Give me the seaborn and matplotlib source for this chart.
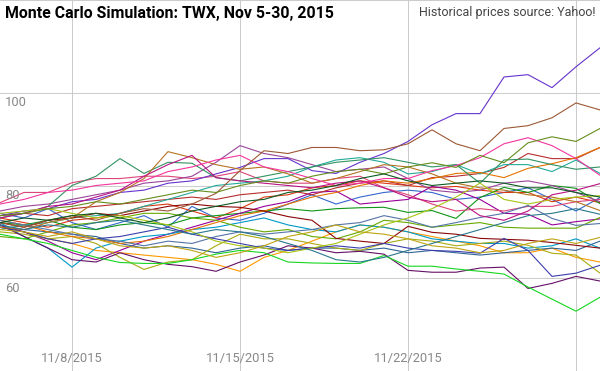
import pandas as pd
import matplotlib
matplotlib.use("Agg")
import matplotlib.pyplot as plt
import matplotlib.transforms as mtransforms
import seaborn as sns

# --- data ---
dates = pd.date_range("2015-11-05", "2015-11-30", freq="D")
grid_dates = pd.to_datetime(["2015-11-08", "2015-11-15", "2015-11-22", "2015-11-29"])
x_labels = ["11/8/2015", "11/15/2015", "11/22/2015"]
y_ticks = [40, 60, 80, 100, 120]
y_labels = [60, 80, 100]

palette = ['#3366cc', '#dc3912', '#ff9900', '#109618', '#990099', '#0099c6',
           '#dd4477', '#66aa00', '#b82e2e', '#316395', '#994499', '#22aa99',
           '#aaaa11', '#6633cc', '#e67300', '#8b0707', '#651067', '#329262',
           '#5574a6', '#3b3eac', '#b77322', '#16d620', '#b91383', '#f4359e',
           '#9c5935', '#a9c413', '#2a778d', '#668d1c', '#bea413', '#0c5922']

s00 = [74, 73, 75, 72, 70.5, 72, 73.5, 71, 75.5, 73, 72.5, 74, 76, 78, 76, 77.5, 78.5, 79, 78.5, 77, 77.5, 78.5, 79.5, 77, 74.5, 77.4]
s01 = [73, 72, 71, 72.5, 73, 74, 75.5, 76, 74.5, 73, 75, 77.5, 78, 79.5, 80, 81, 80.5, 80, 79.5, 79.8, 79, 78.5, 78.5, 76.5, 77.5, 76.3]
s02 = [71, 70, 68.5, 67.5, 66, 65.5, 65, 64.5, 64, 63, 61.5, 64.5, 66, 68, 70, 71.5, 71, 70, 69, 68, 67, 65.5, 65.5, 66.5, 64.5, 63.5]
s03 = [72, 71.5, 72.5, 71, 70.5, 71.5, 72, 71.5, 73, 73.5, 74, 74.5, 75, 74.5, 75, 75.2, 75.3, 74.2, 74.6, 72.9, 77.4, 79.6, 78.5, 80, 79.4, 76.1]
s04 = [71.5, 70, 68, 65.5, 64, 66, 68, 69.5, 71, 72.5, 74, 75.5, 76.5, 78.5, 78.8, 76, 76.5, 77, 79.8, 79, 77, 74, 73.8, 71.5, 72.2, 72.8]
s05 = [72, 69, 66.5, 62.4, 66.5, 68, 69, 69.5, 70.5, 71, 72, 73, 71.5, 70.5, 70, 71.5, 71, 70, 68.5, 68, 67.5, 67.5, 66.5, 67, 68.5, 66.5]
s06 = [76.3, 78.5, 78.5, 80.6, 81.5, 81.5, 82, 82, 81.5, 82, 83, 81, 80.5, 80.5, 81.5, 82, 79.5, 78, 76, 74.5, 75, 74.5, 75.5, 75.5, 76.5, 77]
s07 = [69, 68.5, 70, 71.5, 72, 73, 74, 74, 73, 72.5, 71, 70, 70.5, 69, 68.5, 70, 72.5, 72, 71, 71.5, 72, 71, 70.8, 70.8, 70.8, 73.1]
s08 = [73.5, 74, 73.5, 75, 75.5, 76, 76.5, 77, 77.5, 77, 78, 78.5, 79, 78, 79.5, 80.5, 81, 80, 81.7, 82, 82.6, 83.9, 86.9, 85.8, 85.8, 88.2]
s09 = [71, 70.5, 70, 69.5, 69, 67.5, 66.5, 67, 66.5, 65.5, 66.5, 67, 66, 66.5, 66.5, 66, 66.5, 65.5, 66, 65.5, 65, 65.5, 66, 66.5, 66, 68]
s10 = [74.5, 75.5, 76, 77, 78, 79, 80.5, 81, 82, 85, 88.6, 86.9, 86, 84.5, 83, 83.5, 84, 81.5, 79, 78.5, 79, 80.5, 81, 80, 78.5, 76.5]
s11 = [70.5, 71.5, 72, 73, 73.5, 74, 75.5, 77, 78.5, 80, 80.5, 81, 82, 84, 85.5, 86, 85, 82.5, 83, 84.5, 82.5, 84.5, 84.5, 83, 85.5, 82.6]
s12 = [70, 69.5, 68.5, 69, 67.5, 64.5, 61.9, 63.5, 64, 67, 69.5, 68.5, 68.5, 67.5, 66.5, 66, 67.5, 68.5, 68, 67, 67.5, 68, 67.1, 65.4, 65, 61.1]
s13 = [73.5, 74.5, 75, 76.5, 77, 78.5, 79, 80.5, 81, 82.5, 83.9, 85.8, 85.8, 83.2, 82.6, 85, 86.9, 89.5, 93.1, 95.5, 95.5, 103.4, 103.9, 101.1, 105.6, 109.7]
s14 = [72.5, 71.5, 70, 69, 68.5, 67.5, 68, 69, 70.5, 72, 73.5, 74.5, 76, 77.5, 78.5, 80, 81, 80.5, 81.5, 82.6, 82.8, 81.7, 83.7, 84.7, 86, 88.2]
s15 = [72, 71, 72.5, 73, 74, 73.5, 74.5, 75.5, 76, 75.5, 75.3, 74.5, 73.3, 72.5, 68.6, 68, 67.5, 71.2, 69.9, 69.5, 68.6, 68.4, 68.2, 67.7, 67.1, 66.5]
s16 = [71.5, 69, 66.5, 64, 63.5, 65.5, 64, 63, 62.5, 61.5, 63.5, 65, 67, 66.5, 65.5, 65.8, 65.2, 61.7, 61.3, 61.3, 62.2, 62.4, 57.8, 58.9, 60.4, 59.4]
s17 = [73, 74, 75.5, 80, 82, 85.8, 82.6, 85, 84.8, 81.7, 81, 82, 83, 84, 85, 85.5, 86, 85, 84, 84.5, 80.5, 85.5, 85.7, 84.5, 83.5, 84]
s18 = [72.5, 71.5, 70.5, 69.5, 68.5, 68, 67, 68, 67.5, 69, 70, 69.5, 70, 70.5, 71.5, 72, 73.5, 72.5, 71, 72, 73.1, 74, 75.7, 72.9, 71.4, 71.8]
s19 = [71, 70, 68.5, 67.5, 68.5, 69, 70, 71, 69.5, 68.5, 67.5, 66.5, 66, 66.5, 67, 66.5, 67.5, 66.5, 66, 65.8, 65.4, 68.6, 66, 60.4, 61.1, 62.8]
s20 = [71, 70.5, 72, 73, 76.5, 78.5, 81.5, 87.3, 86, 84.5, 83.5, 84, 82.5, 80.5, 81.5, 83, 84.5, 84, 82.5, 80.5, 79.5, 79, 78, 77.5, 76.5, 74.6]
s21 = [69.5, 68.5, 67.5, 66, 64.5, 63.4, 63.2, 63.2, 64, 65.2, 66, 65.5, 63.5, 63.3, 63.2, 63.2, 64.9, 62.6, 62.6, 62, 61.5, 60.9, 58.1, 55.5, 52.9, 55.9]
s22 = [73, 74, 75.5, 76, 77.5, 79, 82, 84.5, 86.5, 81.7, 81, 80.5, 80, 79.5, 80.5, 81, 79.5, 77.5, 76.5, 77, 73.5, 72.5, 74.5, 78, 79, 80.4]
s23 = [76, 77, 78.5, 79, 80, 80.5, 81, 83, 84, 85.5, 86.5, 84, 83, 81.5, 80, 80.5, 81.5, 81.5, 83.2, 84.3, 86, 89, 90.3, 88.6, 85.8, 82.2]
s24 = [72, 71, 72.5, 73.5, 72.5, 74, 75, 74.5, 76, 78.3, 83.2, 87.5, 86.9, 88.2, 88.2, 87.5, 87.7, 89, 92, 89, 87.5, 92.3, 92.9, 94.6, 97.8, 96.3]
s25 = [74, 74.5, 75, 74, 73, 73.5, 72.5, 71.5, 70, 68, 67, 66.5, 65.5, 66.5, 67.5, 69.5, 71.5, 73, 75, 77.5, 80.5, 77, 76, 77, 77.5, 77.8]
s26 = [71.5, 70.5, 71.5, 71, 72, 72.5, 71.5, 70.5, 69.5, 70.5, 70, 69, 67.5, 66, 64, 63.5, 64.5, 66, 67.5, 69, 70.5, 72, 73.5, 74, 75, 73.8]
s27 = [73.5, 74, 75, 75.5, 76.5, 76, 77, 78, 79, 78.5, 80, 81, 80.5, 82, 83, 83.5, 82.5, 84, 84.9, 83.9, 86.5, 84.9, 89.2, 90.5, 89.5, 92.3]
s28 = [70.5, 70, 69, 70, 68.5, 67, 66.5, 67, 66, 64.5, 65.5, 67, 69, 70, 71.5, 70, 69.5, 68.5, 67, 66.5, 65.5, 66, 67.5, 68.5, 67.5, 68.8]
s29 = [72, 73, 72.5, 73.5, 74, 73, 72, 73, 74.5, 75.5, 76.5, 77, 78.5, 79, 80, 81.5, 82.5, 81, 80, 80.5, 81, 80.5, 79.5, 79.5, 78.5, 77.5]

series = [s00, s01, s02, s03, s04, s05, s06, s07, s08, s09, s10, s11, s12, s13, s14,
          s15, s16, s17, s18, s19, s20, s21, s22, s23, s24, s25, s26, s27, s28, s29]

# long table for seaborn
frames = []
for i, vals in enumerate(series):
    frames.append(pd.DataFrame({"date": dates, "price": vals, "run": i}))
df = pd.concat(frames, ignore_index=True)

sns.set_style("white")
plt.rcParams["font.family"] = ["Roboto", "DejaVu Sans"]

fig = plt.figure(figsize=(6, 3.71), dpi=100)
ax = fig.add_axes([0, 0, 1, 1])

sns.lineplot(data=df, x="date", y="price", hue="run", palette=palette,
             legend=False, linewidth=0.8, ax=ax, estimator=None)

ax.set_xlim(dates[0], dates[-1])
ax.set_ylim(40, 120)
ax.set_xticks(grid_dates)
ax.set_yticks(y_ticks)
ax.set_xticklabels([])
ax.set_yticklabels([])
ax.tick_params(length=0)
ax.grid(True, color="#cccccc", linewidth=0.75)
ax.set_axisbelow(True)
ax.set_xlabel("")
ax.set_ylabel("")
for sp in ax.spines.values():
    sp.set_visible(False)

# y labels inside the plot, just under their grid line
ytrans = mtransforms.blended_transform_factory(ax.transAxes, ax.transData)
off = mtransforms.ScaledTranslation(0, -2.5 / 72, fig.dpi_scale_trans)
for v in y_labels:
    ax.text(0.008, v, str(v), transform=ytrans + off, ha="left", va="top",
            fontsize=9.3, color="#888888")

# x labels at the bottom, centred on their grid line
xtrans = mtransforms.blended_transform_factory(ax.transData, ax.transAxes)
for d, lab in zip(grid_dates[:3], x_labels):
    ax.text(d, 0.035, lab, transform=xtrans, ha="center", va="center",
            fontsize=9.3, color="#888888")

fig.text(0.009, 0.963, "Monte Carlo Simulation: TWX, Nov 5-30, 2015",
         ha="left", va="center", fontsize=11.4, fontweight="bold", color="#000000")
fig.text(0.993, 0.965, "Historical prices source: Yahoo!",
         ha="right", va="center", fontsize=9, color="#444444")

fig.savefig("out.png", dpi=100)
